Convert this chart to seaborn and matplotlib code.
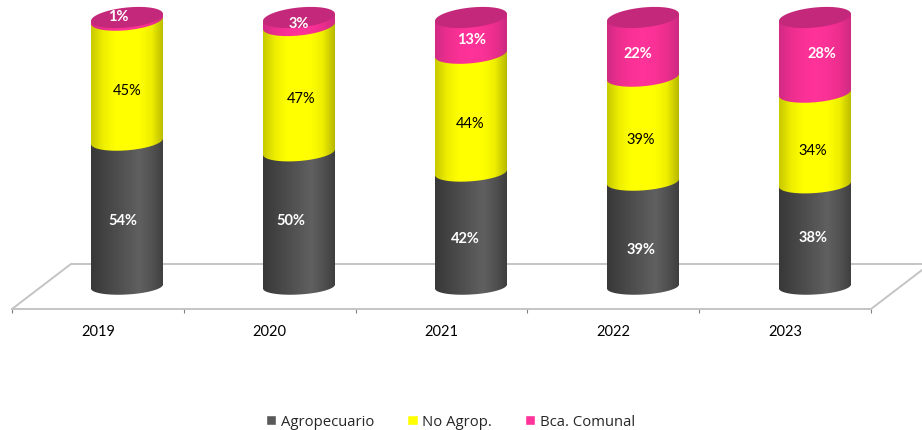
import numpy as np
import matplotlib
matplotlib.use("Agg")
import matplotlib.pyplot as plt
import seaborn as sns
from matplotlib.colors import LinearSegmentedColormap
from matplotlib.path import Path
from matplotlib.patches import PathPatch

years = ["2019", "2020", "2021", "2022", "2023"]
agropecuario = [54.0, 50.0, 42.4, 39.0, 38.0]
no_agrop = [45.0, 47.0, 44.2, 39.0, 34.0]
bca_comunal = [1.0, 3.0, 13.4, 22.0, 28.0]

series_names = ["Agropecuario", "No Agrop.", "Bca. Comunal"]
series_values = [agropecuario, no_agrop, bca_comunal]
legend_colors = ["#595959", "#FFFF00", "#FF3399"]
shade_colors = [
    ["#383838", "#424242", "#4c4c4c", "#565656", "#606060", "#525252", "#3e3e3e"],
    ["#c8c800", "#eeee00", "#ffff00", "#ffff00", "#ffff00", "#eeee00", "#b8b800"],
    ["#d02a85", "#ec2e8e", "#fa3196", "#ff3399", "#fa3196", "#ec2e8e", "#cc2a82"],
]
cap_color = "#C4287A"
label_colors = ["white", "black", "white"]
label_bold = [True, False, True]

# nudges of the value labels in pixels, they sit off centre in the original
label_dx = [
    [-4, -8, -6, -2, -2],
    [0, 2, -1, -2, -2],
    [-9, 0, 1, -5, 7],
]
label_dy = [
    [6, 1, 9, 15, 2],
    [9, 9, 10, 10, 11],
    [-3, 1, 3, 6, -2],
]

W, H = 922, 431
PX_PER_PCT = 2.69
half_w = 36 / 172


def ell_b(y):
    # ellipses open up slightly towards the top of the chart
    return (8 + 2 * y / 100) / PX_PER_PCT


def ell_shear(y):
    return (2 + 1.5 * y / 100) / PX_PER_PCT


def segment_path(cx, y0, y1):
    # front of a cylinder piece: rounded bottom edge, straight top
    t = np.linspace(np.pi, 2 * np.pi, 60)
    xs = cx + half_w * np.cos(t)
    ys = y0 + ell_b(y0) * np.sin(t) + ell_shear(y0) * np.cos(t)
    xs = np.r_[xs, cx + half_w, cx - half_w, xs[0]]
    ys = np.r_[ys, y1 + ell_shear(y1), y1 - ell_shear(y1), ys[0]]
    return Path(np.column_stack([xs, ys]))


def cap_path(cx, y):
    t = np.linspace(0, 2 * np.pi, 120)
    xs = cx + half_w * np.cos(t)
    ys = y + ell_b(y) * np.sin(t) + ell_shear(y) * np.cos(t)
    return Path(np.column_stack([xs, ys]))


def main():
    sns.set_theme(style="white")
    plt.rcParams["font.family"] = ["Lato", "DejaVu Sans"]

    fig = plt.figure(figsize=(W / 100, H / 100), dpi=100)

    # floor of the 3d chart, carries the year labels
    floor = fig.add_axes([12 / W, (H - 310) / H, 859 / W, 45 / H])
    floor.set_xlim(-0.5, 4.5)
    floor.set_ylim(0, 1)
    floor.patch.set_visible(False)
    sns.despine(ax=floor, left=True, top=True, right=True)
    floor.spines["bottom"].set_color("#c4c4c4")
    floor.spines["bottom"].set_linewidth(1.4)
    floor.set_yticks([])
    floor.set_xticks(range(len(years)))
    floor.set_xticklabels(years, fontsize=10.5, color="black")
    floor.set_xticks(np.arange(-0.5, 5), minor=True)
    floor.tick_params(axis="x", which="major", length=0, pad=11)
    floor.tick_params(axis="x", which="minor", bottom=True, length=3, width=0.8, color="#808080", direction="out")
    d = 59 / 172
    floor.plot([-0.5, -0.5 + d, 4.5 + d, 4.5], [0, 1, 1, 0], color="#c4c4c4", lw=1.4, clip_on=False)

    # bars sit on a full size axes, pushed back from the floor front
    ax = fig.add_axes([0, 0, 1, 1])
    ax.patch.set_visible(False)
    xlim = (-127 / 172, (W - 127) / 172)
    ylim = ((287.5 - H) / PX_PER_PCT, 287.5 / PX_PER_PCT)

    bottom = np.zeros(len(years))
    for i, name in enumerate(series_names):
        vals = np.array(series_values[i])
        sns.barplot(x=years, y=vals, bottom=bottom, color=legend_colors[i], saturation=1,
                    width=0.38, ax=ax, label=name, zorder=1)
        cmap = LinearSegmentedColormap.from_list("shade%d" % i, shade_colors[i])
        grad = np.linspace(0, 1, 256).reshape(1, -1)
        for j in range(len(years)):
            top = bottom[j] + vals[j]
            path = segment_path(j, bottom[j], top)
            clip = PathPatch(path, transform=ax.transData, facecolor="none", edgecolor="none")
            ax.add_patch(clip)
            im = ax.imshow(grad, cmap=cmap, aspect="auto", zorder=2 + i, interpolation="bilinear",
                           extent=(j - half_w, j + half_w, bottom[j] - 6, top + 3))
            im.set_clip_path(clip)
            ax.annotate("%.0f%%" % vals[j], (j, bottom[j] + vals[j] / 2),
                        xytext=(label_dx[i][j] * 0.72, -label_dy[i][j] * 0.72),
                        textcoords="offset points", ha="center", va="center", zorder=10,
                        fontsize=10.5, color=label_colors[i],
                        fontweight="bold" if label_bold[i] else "normal")
        bottom = bottom + vals

    for j in range(len(years)):
        ax.add_patch(PathPatch(cap_path(j, bottom[j]), facecolor=cap_color, edgecolor="none", zorder=6))

    ax.set_xlim(*xlim)
    ax.set_ylim(*ylim)
    handles, labels = ax.get_legend_handles_labels()
    if ax.get_legend() is not None:
        ax.get_legend().remove()
    ax.set_axis_off()

    fig.legend(handles, labels, ncol=3, loc="center", bbox_to_anchor=(450.5 / W, (H - 423) / H),
               frameon=False, prop={"family": "Open Sans", "size": 10.7}, handlelength=0.68,
               handleheight=0.68, handletextpad=0.3, columnspacing=2.25, borderpad=0)

    fig.savefig("out.png", dpi=100)
    plt.close(fig)


if __name__ == "__main__":
    main()
